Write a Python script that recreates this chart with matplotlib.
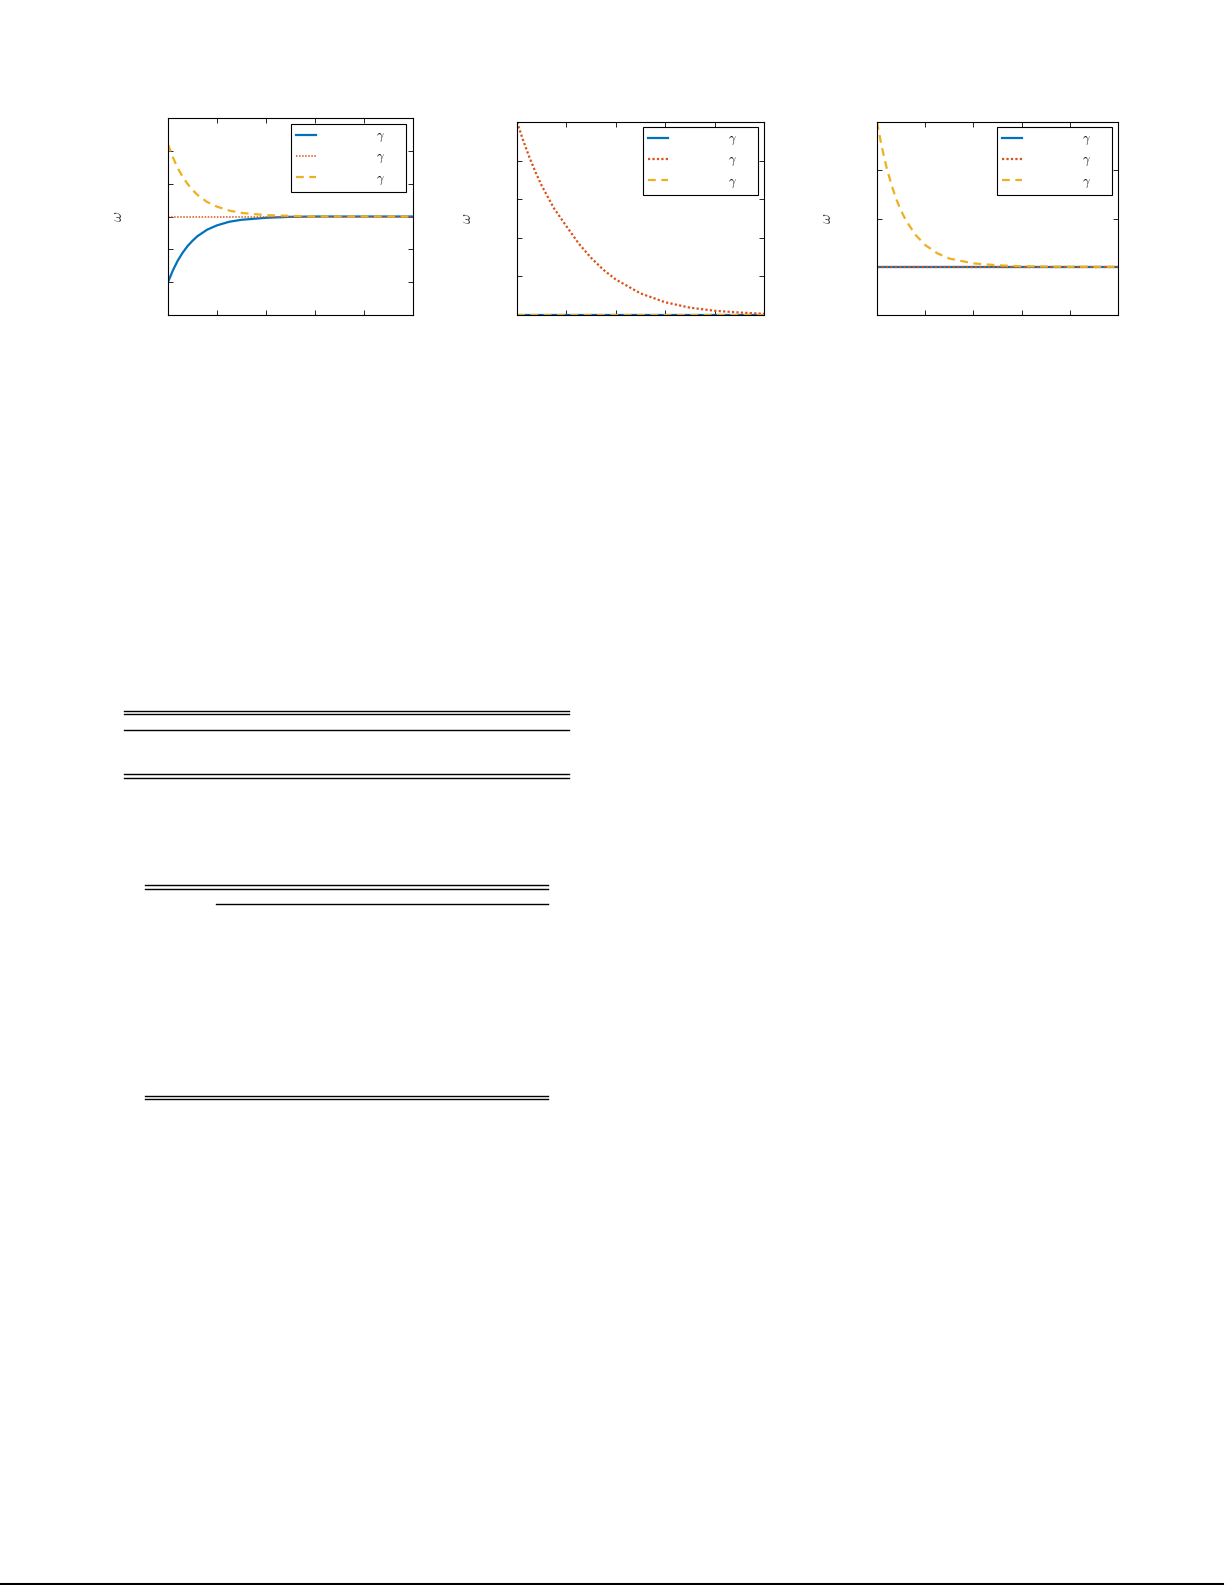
import matplotlib
matplotlib.use('Agg')
import matplotlib.pyplot as plt
from matplotlib.lines import Line2D

plt.rcParams['mathtext.fontset'] = 'cm'

# colours (matlab default order)
blue = '#0072BD'
red = '#D95319'
yellow = '#EDB120'

# ---- data ----
# panel 1
x1 = [0, 0.1, 0.2, 0.3, 0.4, 0.5, 0.6, 0.8, 1.0, 1.25, 1.5, 2.0, 2.5, 3.0, 4.0, 5.0]
blue1 = [1.0, 1.36, 1.66, 1.90, 2.10, 2.26, 2.40, 2.60, 2.73, 2.84, 2.90, 2.96, 2.99, 3.0, 3.0, 3.0]
red1 = [3.0] * len(x1)
yellow1 = [5.2, 4.80, 4.47, 4.21, 3.99, 3.81, 3.66, 3.44, 3.30, 3.18, 3.11, 3.04, 3.02, 3.0, 3.0, 3.0]

# panel 2
x2 = [0, 0.125, 0.25, 0.375, 0.5, 0.75, 1.0, 1.25, 1.5, 1.75, 2.0, 2.5, 3.0, 3.5, 4.0, 4.5, 5.0]
blue2 = [0.0] * len(x2)
red2 = [5.0, 4.52, 4.09, 3.70, 3.35, 2.76, 2.30, 1.85, 1.48, 1.17, 0.92, 0.56, 0.33, 0.19, 0.11, 0.065, 0.03]
yellow2 = [0.0] * len(x2)

# panel 3
x3 = [0, 0.1, 0.2, 0.3, 0.4, 0.5, 0.6, 0.8, 1.0, 1.25, 1.5, 2.0, 2.5, 3.0, 4.0, 5.0]
blue3 = [1.0] * len(x3)
red3 = [1.0] * len(x3)
yellow3 = [4.0, 3.48, 3.05, 2.70, 2.40, 2.16, 1.96, 1.66, 1.45, 1.28, 1.17, 1.07, 1.03, 1.01, 1.0, 1.0]

ymax = [6, 5, 4]
xticks = [0, 1, 2, 3, 4, 5]
lab = ' ' * 14 + '$\\gamma$' + ' ' * 5

W, H = 1225, 1585
fig = plt.figure(figsize=(W / 100, H / 100), dpi=100)

def px_axes(l, t, r, b):
    return fig.add_axes([l / W, 1 - b / H, (r - l) / W, (b - t) / H])

boxes = [(168, 118, 413, 315), (517, 122, 764, 315), (877, 122, 1118, 315)]
legpos = [(406, 124), (758, 127), (1112, 127)]
panels = [(x1, blue1, red1, yellow1), (x2, blue2, red2, yellow2), (x3, blue3, red3, yellow3)]

for i in range(3):
    ax = px_axes(*boxes[i])
    xx, b, r, y = panels[i]
    ax.plot(xx, b, color=blue, lw=1.6, ls='-', label=lab)
    ax.plot(xx, r, color=red, lw=1.1 if i == 0 else 1.6, ls=(0, (1, 1)), label=lab)
    ax.plot(xx, y, color=yellow, lw=1.6, ls=(0, (3.5, 2.5)), label=lab)
    ax.set_xlim(0, 5)
    ax.set_ylim(0, ymax[i])
    ax.set_xticks(xticks)
    ax.set_yticks(range(ymax[i] + 1))
    ax.tick_params(direction='in', top=True, right=True, length=3.5, width=0.6,
                   labelbottom=False, labelleft=False)
    for s in ax.spines.values():
        s.set_linewidth(0.8)
    ax.set_ylabel('$\\omega$', fontsize=11, labelpad=31, color='#333333')
    lx, ly = legpos[i]
    leg = ax.legend(loc='upper right', bbox_to_anchor=(lx / W, 1 - ly / H),
                    bbox_transform=fig.transFigure, fontsize=9, frameon=True,
                    fancybox=False, edgecolor='black', framealpha=1,
                    handlelength=1.6, handletextpad=0.4, labelspacing=0.5,
                    borderpad=0.4, borderaxespad=0)
    leg.get_frame().set_linewidth(0.8)

# table rules
def hline(x0, x1_, y, lw=1.0):
    fig.add_artist(Line2D([x0 / W, x1_ / W], [1 - y / H, 1 - y / H], color='black', lw=lw))

for yy in [710.7, 714.3, 730.3, 774.3, 778.3]:
    hline(124, 569, yy)
for yy in [885.3, 889.3, 1095.7, 1099.3]:
    hline(145, 548, yy)
hline(216, 548, 904.3)
hline(0, 1223, 1583.5, lw=1.5)

fig.savefig('out.png', dpi=100)
